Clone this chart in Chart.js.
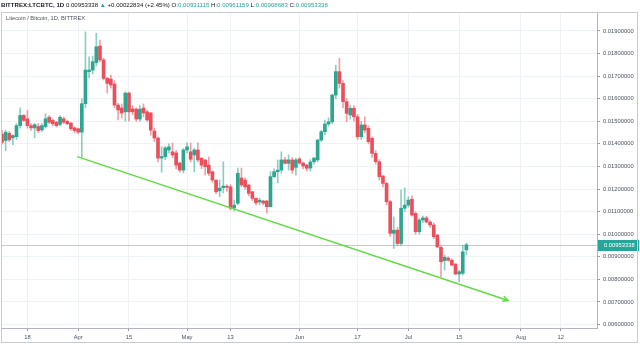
<!DOCTYPE html>
<html><head><meta charset="utf-8">
<script src="https://cdn.jsdelivr.net/npm/chart.js@4.4.1/dist/chart.umd.min.js"></script>
<style>
html,body{margin:0;padding:0;background:#fff;}
#wrap{position:relative;width:640px;height:345px;overflow:hidden;font-family:"Liberation Sans",Arial,sans-serif;}
#c{position:absolute;left:0;top:0;}
#hdr{position:absolute;left:1px;top:0px;font-size:6.1px;line-height:9px;white-space:nowrap;color:#131722;}
#hdr b{font-weight:bold;}
#hdr .g{color:#26a69a;}
#sub{position:absolute;left:6px;top:14px;font-size:5.7px;line-height:9px;color:#50535e;white-space:nowrap;}
#pane{position:absolute;left:1px;top:12px;width:637px;height:331px;border:1px solid #c9cbd0;box-sizing:border-box;pointer-events:none;}
</style></head>
<body><div id="wrap">
<canvas id="c" width="640" height="345"></canvas>
<div id="pane"></div>
<div id="hdr"><b>BITTREX:LTCBTC, 1D</b> 0.00953338 <span class="g">&#9650;</span> +0.00022834 (+2.45%) O:<span class="g">0.00931115</span> H:<span class="g">0.00961159</span> L:<span class="g">0.00908683</span> C:<span class="g">0.00953338</span></div>
<div id="sub">Litecoin / Bitcoin, 1D, BITTREX</div>
</div>
<script>
// ---- data ----
const firstDay = "2019-03-11";
const axisEndDay = "2019-08-22";
const opens = [
0.01444,0.01415,0.01447,0.01427,0.01432,0.01481,0.01526,0.01511,0.01481,0.01471,
0.01477,0.01462,0.01477,0.01518,0.01504,0.01496,0.01486,0.01511,0.01500,0.01492,
0.01471,0.01467,0.01452,0.01578,0.01720,0.01727,0.01760,0.01833,0.01772,0.01690,
0.01687,0.01665,0.01572,0.01559,0.01542,0.01625,0.01555,0.01554,0.01510,0.01559,
0.01542,0.01537,0.01457,0.01426,0.01337,0.01343,0.01373,0.01365,0.01360,0.01315,
0.01284,0.01373,0.01365,0.01351,0.01373,0.01336,0.01329,0.01306,0.01277,0.01240,
0.01192,0.01206,0.01213,0.01210,0.01116,0.01137,0.01249,0.01240,0.01218,0.01188,
0.01159,0.01143,0.01147,0.01147,0.01122,0.01255,0.01277,0.01284,0.01329,0.01314,
0.01329,0.01296,0.01333,0.01315,0.01306,0.01293,0.01321,0.01329,0.01417,0.01454,
0.01488,0.01498,0.01616,0.01720,0.01668,0.01587,0.01528,0.01558,0.01520,0.01432,
0.01484,0.01469,0.01425,0.01358,0.01321,0.01258,0.01225,0.01144,0.01004,0.01018,
0.00959,0.01115,0.01129,0.01155,0.01092,0.01011,0.01063,0.01072,0.01054,0.01041,
0.00996,0.00942,0.00883,0.00894,0.00885,0.00868,0.00824,0.00827,0.00931115];
const highs = [
0.01460,0.01460,0.01455,0.01440,0.01490,0.01560,0.01530,0.01548,0.01490,0.01490,
0.01490,0.01490,0.01533,0.01525,0.01510,0.01500,0.01525,0.01520,0.01505,0.01495,
0.01475,0.01470,0.01600,0.01896,0.01786,0.01789,0.01890,0.01860,0.01780,0.01695,
0.01705,0.01680,0.01580,0.01577,0.01630,0.01630,0.01570,0.01560,0.01570,0.01577,
0.01550,0.01540,0.01470,0.01430,0.01387,0.01390,0.01400,0.01404,0.01370,0.01320,
0.01380,0.01405,0.01404,0.01380,0.01405,0.01340,0.01330,0.01342,0.01280,0.01240,
0.01240,0.01321,0.01220,0.01220,0.01151,0.01293,0.01293,0.01250,0.01220,0.01190,
0.01160,0.01160,0.01150,0.01150,0.01277,0.01290,0.01329,0.01365,0.01340,0.01351,
0.01340,0.01337,0.01340,0.01320,0.01310,0.01330,0.01340,0.01420,0.01460,0.01506,
0.01515,0.01620,0.01749,0.01779,0.01680,0.01600,0.01570,0.01570,0.01530,0.01500,
0.01520,0.01480,0.01430,0.01370,0.01330,0.01260,0.01230,0.01150,0.01077,0.01030,
0.01196,0.01205,0.01166,0.01170,0.01100,0.01070,0.01080,0.01080,0.01060,0.01050,
0.01000,0.00950,0.00908,0.00900,0.00890,0.00870,0.00840,0.00950,0.00961159];
const lows = [
0.01400,0.01370,0.01410,0.01397,0.01420,0.01470,0.01500,0.01470,0.01460,0.01427,
0.01450,0.01455,0.01470,0.01490,0.01480,0.01475,0.01480,0.01490,0.01485,0.01460,
0.01450,0.01445,0.01341,0.01560,0.01692,0.01710,0.01745,0.01763,0.01683,0.01625,
0.01647,0.01560,0.01506,0.01515,0.01501,0.01501,0.01530,0.01500,0.01500,0.01520,
0.01500,0.01439,0.01410,0.01320,0.01275,0.01330,0.01360,0.01340,0.01290,0.01275,
0.01271,0.01360,0.01320,0.01276,0.01320,0.01290,0.01262,0.01260,0.01230,0.01180,
0.01166,0.01183,0.01190,0.01107,0.01103,0.01130,0.01210,0.01200,0.01170,0.01150,
0.01130,0.01130,0.01130,0.01094,0.01120,0.01250,0.01227,0.01270,0.01310,0.01284,
0.01270,0.01262,0.01310,0.01290,0.01280,0.01280,0.01310,0.01320,0.01410,0.01440,
0.01479,0.01490,0.01600,0.01647,0.01559,0.01498,0.01510,0.01500,0.01420,0.01420,
0.01450,0.01400,0.01340,0.01310,0.01240,0.01210,0.01130,0.00990,0.00937,0.00950,
0.00950,0.01100,0.01120,0.01080,0.01000,0.01000,0.01050,0.01050,0.01030,0.00980,
0.00940,0.00812,0.00841,0.00880,0.00860,0.00820,0.00790,0.00820,0.00908683];
const closes = [
0.01407,0.01452,0.01418,0.01437,0.01481,0.01526,0.01504,0.01481,0.01471,0.01485,
0.01459,0.01481,0.01511,0.01496,0.01489,0.01481,0.01518,0.01496,0.01489,0.01467,
0.01459,0.01452,0.01578,0.01727,0.01727,0.01764,0.01830,0.01772,0.01690,0.01668,
0.01661,0.01572,0.01550,0.01537,0.01625,0.01542,0.01542,0.01510,0.01554,0.01537,
0.01506,0.01461,0.01426,0.01337,0.01344,0.01382,0.01387,0.01351,0.01306,0.01284,
0.01373,0.01387,0.01332,0.01373,0.01329,0.01306,0.01299,0.01270,0.01240,0.01188,
0.01204,0.01213,0.01208,0.01115,0.01129,0.01270,0.01218,0.01210,0.01181,0.01159,
0.01139,0.01151,0.01138,0.01122,0.01255,0.01277,0.01284,0.01329,0.01314,0.01329,
0.01284,0.01329,0.01315,0.01302,0.01292,0.01320,0.01337,0.01417,0.01454,0.01488,
0.01498,0.01616,0.01720,0.01668,0.01587,0.01535,0.01558,0.01520,0.01432,0.01484,
0.01461,0.01410,0.01358,0.01321,0.01255,0.01225,0.01144,0.01004,0.01018,0.00959,
0.01115,0.01129,0.01151,0.01085,0.01011,0.01063,0.01072,0.01054,0.01041,0.00989,
0.00944,0.00878,0.00898,0.00885,0.00863,0.00824,0.00834,0.00922,0.00953338];
const tickDays   = ["2019-03-18","2019-04-01","2019-04-15","2019-05-01","2019-05-13","2019-06-01","2019-06-17","2019-07-01","2019-07-15","2019-08-01","2019-08-12"];
const tickLabels = ["18","Apr","15","May","13","Jun","17","Jul","15","Aug","12"];
const priceTicks = [0.006,0.007,0.008,0.009,0.010,0.011,0.012,0.013,0.014,0.015,0.016,0.017,0.018,0.019];
const priceMin = 0.005847, priceMax = 0.019841;
const trendDay   = [20.75, 139.5];
const trendPrice = [0.013433, 0.007065];
const lastPrice = 0.00953338;

// ---- helpers ----
const DAY = 86400000;
const dayIndex = s => Math.round((Date.parse(s) - Date.parse(firstDay)) / DAY);
const UP = '#2ea58f', DOWN = '#ea4f5b';
const UPW = 'rgba(46,165,143,0.55)', DOWNW = 'rgba(234,79,91,0.55)';
const FONT = '"Liberation Sans", Arial, sans-serif';

const bodies = opens.map((o,i)=>({x:i, y:[o, closes[i]]}));
const wicks  = opens.map((o,i)=>({x:i, y:[lows[i], highs[i]]}));
const isUp = opens.map((o,i)=>closes[i] >= o);

const lastPricePlugin = {
  id:'lastPrice',
  beforeDatasetsDraw(chart){
    const {ctx, chartArea:a, scales:{y}} = chart;
    const py = Math.round(y.getPixelForValue(lastPrice)) + 0.5;
    ctx.save();
    ctx.strokeStyle = '#9fdcd2';
    ctx.lineWidth = 1;
    ctx.beginPath(); ctx.moveTo(a.left, py); ctx.lineTo(a.right, py); ctx.stroke();
    ctx.restore();
  },
  afterDraw(chart){
    const {ctx, chartArea:a, scales:{y}} = chart;
    const py = Math.round(y.getPixelForValue(lastPrice));
    ctx.save();
    ctx.fillStyle = '#26a69a';
    ctx.fillRect(a.right + 1, py - 5, 41, 11);
    ctx.fillStyle = '#ffffff';
    ctx.font = '5.8px ' + FONT;
    ctx.textBaseline = 'middle';
    ctx.fillText(lastPrice.toFixed(8), a.right + 7, py + 0.5);
    ctx.restore();
  }
};

const arrowPlugin = {
  id:'arrowHead',
  afterDatasetsDraw(chart){
    const meta = chart.getDatasetMeta(2);
    const pts = meta.data;
    if (!pts || pts.length < 2) return;
    const p0 = pts[0], p1 = pts[pts.length-1];
    const ang = Math.atan2(p1.y - p0.y, p1.x - p0.x);
    const L = 6, spread = 0.45;
    const ctx = chart.ctx;
    ctx.save();
    ctx.strokeStyle = '#5fdc3f'; ctx.lineWidth = 1.3;
    ctx.beginPath();
    ctx.moveTo(p1.x - L*Math.cos(ang - spread), p1.y - L*Math.sin(ang - spread));
    ctx.lineTo(p1.x, p1.y);
    ctx.lineTo(p1.x - L*Math.cos(ang + spread), p1.y - L*Math.sin(ang + spread));
    ctx.stroke();
    ctx.restore();
  }
};

new Chart(document.getElementById('c'), {
  data: {
    datasets: [
      { type:'bar', label:'wicks', data: wicks, grouped:false, barThickness:1,
        backgroundColor: isUp.map(u=>u?UPW:DOWNW), borderWidth:0, order:2 },
      { type:'bar', label:'bodies', data: bodies, grouped:false, barThickness:3, minBarLength:1,
        backgroundColor: isUp.map(u=>u?UP:DOWN), borderWidth:0, order:1 },
      { type:'line', label:'trend', data: trendDay.map((d,i)=>({x:d, y:trendPrice[i]})),
        borderColor:'#5fdc3f', borderWidth:1.4, pointRadius:0, fill:false, order:0 }
    ]
  },
  options: {
    responsive:false, animation:false, devicePixelRatio:1,
    layout:{padding:{left:2, top:12, right:0, bottom:0}},
    plugins:{legend:{display:false}, tooltip:{enabled:false}},
    scales:{
      x:{ type:'linear', min:0, max:dayIndex(axisEndDay), offset:false,
          grid:{color:'#eef1f6', tickColor:'#9598a1', tickLength:3, offset:false},
          border:{display:true, color:'#b2b5be'},
          afterBuildTicks: s => { s.ticks = tickDays.map(d=>({value:dayIndex(d)})); },
          afterFit: s => { s.height = 17; },
          ticks:{ autoSkip:false, maxRotation:0, padding:3, color:'#4c525e',
                  font:{size:5.8, family:FONT},
                  callback:(v,i)=>tickLabels[i] } },
      y:{ type:'linear', position:'right', min:priceMin, max:priceMax,
          grid:{color:'#eef1f6', tickColor:'#9598a1', tickLength:3},
          border:{display:true, color:'#b2b5be'},
          afterBuildTicks: s => { s.ticks = priceTicks.map(v=>({value:v})); },
          afterFit: s => { s.width = 43; },
          ticks:{ padding:3, color:'#4c525e', font:{size:5.8, family:FONT},
                  callback:v=>Number(v).toFixed(8) } }
    }
  },
  plugins:[lastPricePlugin, arrowPlugin]
});
</script>
</body></html>
